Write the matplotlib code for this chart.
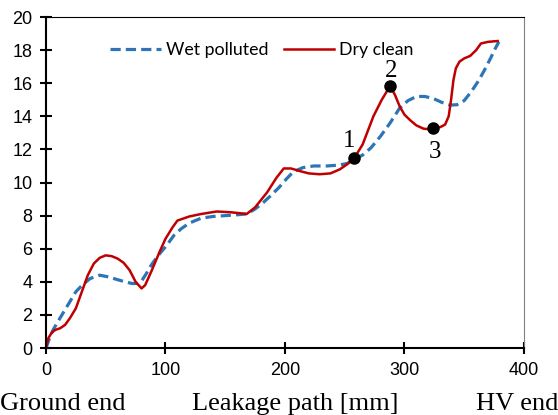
import numpy as np
import matplotlib.pyplot as plt

# Leakage path positions [mm] and values for the two surface conditions
wet_x = [0, 3, 6, 10, 15, 20, 25, 31, 37, 45, 52, 59, 66, 72, 76, 80, 84, 88, 94,
         101, 107, 113, 120, 130, 140, 150, 160, 168, 175, 182, 188, 195, 201, 207,
         215, 224, 235, 245, 252, 258, 265, 272, 280, 288, 296, 303, 310, 317, 324,
         331, 338, 344, 350, 356, 362, 367, 372, 376, 379]
wet_y = [0, 0.6, 1.1, 1.6, 2.2, 2.8, 3.4, 3.85, 4.2, 4.4, 4.3, 4.15, 4.0, 3.9, 3.9,
         4.05, 4.5, 5.0, 5.6, 6.2, 6.8, 7.2, 7.55, 7.85, 7.95, 8.0, 8.05, 8.1, 8.4,
         8.8, 9.2, 9.7, 10.2, 10.65, 10.9, 11.0, 11.0, 11.05, 11.15, 11.4, 11.66,
         12.1, 12.8, 13.6, 14.5, 14.95, 15.2, 15.2, 15.08, 14.85, 14.68, 14.7, 14.95,
         15.5, 16.15, 16.8, 17.5, 18.1, 18.5]

dry_x = [0, 2, 5, 8, 12, 16, 20, 25, 30, 35, 40, 45, 50, 55, 60, 65, 70, 75, 80,
         83, 88, 95, 100, 106, 110, 120, 130, 143, 155, 168, 175, 185, 193, 199,
         205, 212, 220, 229, 238, 246, 252, 258, 265, 274, 281, 288, 292, 296, 300,
         305, 310, 316, 321, 324, 330, 334, 337, 339, 341, 343, 346, 350, 355, 360,
         364, 370, 378]
dry_y = [0, 0.6, 0.95, 1.1, 1.2, 1.4, 1.8, 2.4, 3.4, 4.4, 5.1, 5.45, 5.6, 5.55, 5.4,
         5.15, 4.7, 4.0, 3.6, 3.8, 4.6, 5.8, 6.6, 7.3, 7.7, 7.95, 8.1, 8.25, 8.2,
         8.1, 8.5, 9.4, 10.3, 10.85, 10.85, 10.7, 10.55, 10.5, 10.55, 10.8, 11.1,
         11.48, 12.3, 14.0, 15.0, 15.83, 15.3, 14.6, 14.1, 13.75, 13.45, 13.25,
         13.22, 13.3, 13.35, 13.5, 14.0, 15.0, 16.2, 16.9, 17.3, 17.5, 17.65, 18.0,
         18.4, 18.5, 18.55]

# marked points on the dry clean curve
pt_labels = ['1', '2', '3']
pt_x = [258, 288, 324]
pt_y = [11.48, 15.83, 13.3]
pt_offsets = [(-4, 7.9), (0.7, 6.5), (1, -21.6)]

x_ticks = [0, 100, 200, 300, 400]
y_ticks = list(range(0, 21, 2))

fig = plt.figure(figsize=(5.58, 4.15), dpi=100)
ax = fig.add_axes([0.0824, 0.1614, 0.8566, 0.7976])

ax.plot(wet_x, wet_y, color='#2E75B6', lw=2.3, dashes=(3.2, 1.6), label='Wet polluted')
ax.plot(dry_x, dry_y, color='#C00000', lw=1.8, label='Dry clean')
ax.plot(pt_x, pt_y, 'o', color='black', ms=8, zorder=5)

for lab, x, y, off in zip(pt_labels, pt_x, pt_y, pt_offsets):
    ax.annotate(lab, (x, y), xytext=off, textcoords='offset points',
                ha='center', va='baseline', fontsize=18, family='Liberation Serif')

ax.set_xlim(0, 400)
ax.set_ylim(0, 20)
ax.set_xticks(x_ticks)
ax.set_yticks(y_ticks)
ax.tick_params(direction='inout', length=8.6, width=1.5, labelsize=13, pad=5.5)
for lbl in ax.get_xticklabels() + ax.get_yticklabels():
    lbl.set_family('Liberation Sans')

ax.spines['left'].set_linewidth(1.5)
ax.spines['bottom'].set_linewidth(1.5)
ax.spines['top'].set_linewidth(0.8)
ax.spines['right'].set_linewidth(0.8)
ax.spines['right'].set_color('#808080')

ax.legend(ncol=2, loc='upper left', bbox_to_anchor=(0.12, 0.946), frameon=False,
          prop={'family': 'Lato', 'size': 12.8}, handlelength=2.85,
          handletextpad=0.28, columnspacing=0.84, borderaxespad=0)

# labels under the x axis
fig.text(0.0, 0.012, 'Ground end', family='Liberation Serif', fontsize=19,
         ha='left', va='baseline')
fig.text(0.53, 0.012, 'Leakage path [mm]', family='Liberation Serif', fontsize=19,
         ha='center', va='baseline')
fig.text(1.0, 0.012, 'HV end', family='Liberation Serif', fontsize=19,
         ha='right', va='baseline')

fig.savefig('out.png', dpi=100)
